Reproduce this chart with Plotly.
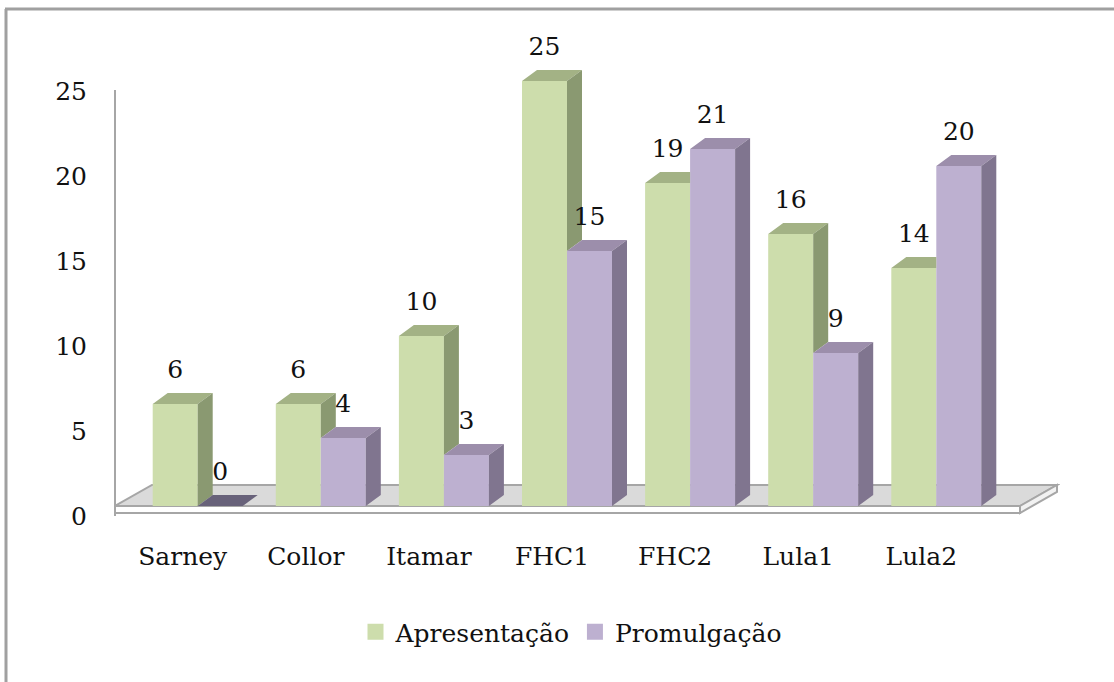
import plotly.graph_objects as go

# ---- data ----
categories = ["Sarney", "Collor", "Itamar", "FHC1", "FHC2", "Lula1", "Lula2"]
apresentacao = [6, 6, 10, 25, 19, 16, 14]
promulgacao = [0, 4, 3, 15, 21, 9, 20]
series_names = ["Apresentação", "Promulgação"]
tick_values = [0, 5, 10, 15, 20, 25]

# ---- styling / geometry ----
FONT = "DejaVu Serif"
FS = 25
G_FRONT, G_SIDE, G_TOP = "#CDDDAC", "#8A9971", "#A3B285"
P_FRONT, P_SIDE, P_TOP, P_ZERO = "#BDB0D0", "#80758F", "#9C8EAB", "#68627A"
W, H = 1114, 682
ML, MR, MT, MB = 115, 54, 40, 147
PX_PER_CAT = 123.1
CAT0_PX = 197.7
PX_PER_UNIT = 17.0
ZERO_PX = 506.0

def xd(px):
    return (px - CAT0_PX) / PX_PER_CAT

def yd(py):
    return (ZERO_PX - py) / PX_PER_UNIT

bw = 45 / PX_PER_CAT          # bar width in data units
dx = 15 / PX_PER_CAT          # depth x
dy = 11 / PX_PER_UNIT         # depth y
lab_off = 32 / PX_PER_UNIT    # label offset above front top

idx = list(range(len(categories)))

fig = go.Figure()

# front faces
fig.add_trace(go.Bar(x=idx, y=apresentacao, width=bw, offset=-bw,
                     marker=dict(color=G_FRONT, line=dict(width=0)),
                     showlegend=False, hoverinfo="skip"))
fig.add_trace(go.Bar(x=idx, y=promulgacao, width=bw, offset=0,
                     marker=dict(color=P_FRONT, line=dict(width=0)),
                     showlegend=False, hoverinfo="skip"))

def poly_trace(polys, color):
    xs, ys = [], []
    for poly in polys:
        for (px_, py_) in poly:
            xs.append(px_)
            ys.append(py_)
        xs.append(poly[0][0]); ys.append(poly[0][1])
        xs.append(None); ys.append(None)
    return go.Scatter(x=xs, y=ys, mode="lines", fill="toself", fillcolor=color,
                      line=dict(width=0, color=color), showlegend=False,
                      hoverinfo="skip")

g_tops, g_sides, p_tops, p_sides, p_zero = [], [], [], [], []
for i, g, p in zip(idx, apresentacao, promulgacao):
    a, b, c = i - bw, i, i + bw
    if p >= g + dy:
        g_tops.append([(a, g), (a + dx, g + dy), (b, g + dy), (b, g)])
    else:
        g_tops.append([(a, g), (a + dx, g + dy), (b + dx, g + dy), (b, g)])
    if g > p:
        g_sides.append([(b, p), (b + dx, p + dy), (b + dx, g + dy), (b, g)])
    top = [(b, p), (b + dx, p + dy), (c + dx, p + dy), (c, p)]
    if p == 0:
        p_zero.append(top)
    else:
        p_tops.append(top)
        p_sides.append([(c, p), (c + dx, p + dy), (c + dx, dy), (c, 0)])

fig.add_trace(poly_trace(g_tops, G_TOP))
fig.add_trace(poly_trace(g_sides, G_SIDE))
fig.add_trace(poly_trace(p_zero, P_ZERO))
fig.add_trace(poly_trace(p_tops, P_TOP))
fig.add_trace(poly_trace(p_sides, P_SIDE))

# data labels
fig.add_trace(go.Scatter(x=[i - bw / 2 for i in idx],
                         y=[v + lab_off for v in apresentacao],
                         text=[str(v) for v in apresentacao], mode="text",
                         textposition="middle center", cliponaxis=False,
                         textfont=dict(family=FONT, size=FS, color="#111111"),
                         showlegend=False, hoverinfo="skip"))
fig.add_trace(go.Scatter(x=[i + bw / 2 for i in idx],
                         y=[v + lab_off for v in promulgacao],
                         text=[str(v) for v in promulgacao], mode="text",
                         textposition="middle center", cliponaxis=False,
                         textfont=dict(family=FONT, size=FS, color="#111111"),
                         showlegend=False, hoverinfo="skip"))

# legend entries
for name, col in zip(series_names, [G_FRONT, P_FRONT]):
    fig.add_trace(go.Scatter(x=[None], y=[None], mode="markers", name=name,
                             marker=dict(symbol="square", size=16, color=col),
                             showlegend=True, hoverinfo="skip"))

# invisible trace to materialise tick axis
fig.add_trace(go.Scatter(x=[0], y=[0], yaxis="y2", mode="markers",
                         marker=dict(opacity=0), showlegend=False,
                         hoverinfo="skip"))

# floor (decoration)
fx0, fx1 = xd(115), xd(1020)
bx0, bx1 = xd(152), xd(1057)
fy_back = yd(485)
fy_slab = yd(513)
floor_line = dict(color="#A6A6A6", width=2)
shapes = [
    dict(type="path", xref="x", yref="y", layer="below",
         path=f"M{fx0},0 L{fx1},0 L{bx1},{fy_back} L{bx0},{fy_back} Z",
         fillcolor="#DADADA", line=floor_line),
    dict(type="path", xref="x", yref="y", layer="below",
         path=f"M{fx0},0 L{fx1},0 L{fx1},{fy_slab} L{fx0},{fy_slab} Z",
         fillcolor="#FFFFFF", line=floor_line),
    dict(type="path", xref="x", yref="y", layer="below",
         path=f"M{fx1},0 L{bx1},{fy_back} L{bx1},{fy_back - 0.4} L{fx1},{fy_slab} Z",
         fillcolor="#F2F2F2", line=floor_line),
]
# outer frame (left and top)
pw, ph = W - ML - MR, H - MT - MB
def xp(px):
    return (px - ML) / pw
def yp(py):
    return (H - MB - py) / ph
shapes.append(dict(type="line", xref="paper", yref="paper",
                   x0=xp(6), x1=xp(6), y0=yp(9), y1=yp(H + 5),
                   line=dict(color="#A0A0A0", width=3)))
shapes.append(dict(type="line", xref="paper", yref="paper",
                   x0=xp(5), x1=xp(W + 5), y0=yp(9), y1=yp(9),
                   line=dict(color="#A0A0A0", width=3)))

y2_bottom_px, y2_top_px = 516, 90
fig.update_layout(
    width=W, height=H,
    margin=dict(l=ML, r=MR, t=MT, b=MB),
    paper_bgcolor="white", plot_bgcolor="rgba(0,0,0,0)",
    barmode="overlay",
    shapes=shapes,
    xaxis=dict(range=[xd(ML), xd(W - MR)], showgrid=False, zeroline=False,
               showline=False, tickmode="array",
               tickvals=[i - 15 / PX_PER_CAT for i in idx], ticktext=categories,
               ticks="", tickfont=dict(family=FONT, size=FS, color="#111111"),
               ticklabelstandoff=4),
    yaxis=dict(range=[yd(H - MB), yd(MT)], visible=False, showgrid=False,
               zeroline=False),
    yaxis2=dict(anchor="free", position=0,
                domain=[yp(y2_bottom_px), yp(y2_top_px)],
                range=[0, (y2_bottom_px - y2_top_px) / PX_PER_UNIT],
                tickmode="array", tickvals=tick_values,
                ticktext=[str(v) for v in tick_values],
                showgrid=False, zeroline=False, showline=True,
                linecolor="#A6A6A6", linewidth=2, ticks="",
                ticklabelstandoff=22,
                tickfont=dict(family=FONT, size=FS, color="#111111")),
    legend=dict(orientation="h", x=xp(571), xanchor="center",
                y=yp(632), yanchor="middle",
                font=dict(family=FONT, size=FS, color="#111111"),
                bgcolor="rgba(0,0,0,0)"),
    showlegend=True,
)

fig.write_html("out.html",
               config={"displayModeBar": False},
               post_script="document.body.style.margin='0';"
                           "document.body.style.overflow='hidden';")
